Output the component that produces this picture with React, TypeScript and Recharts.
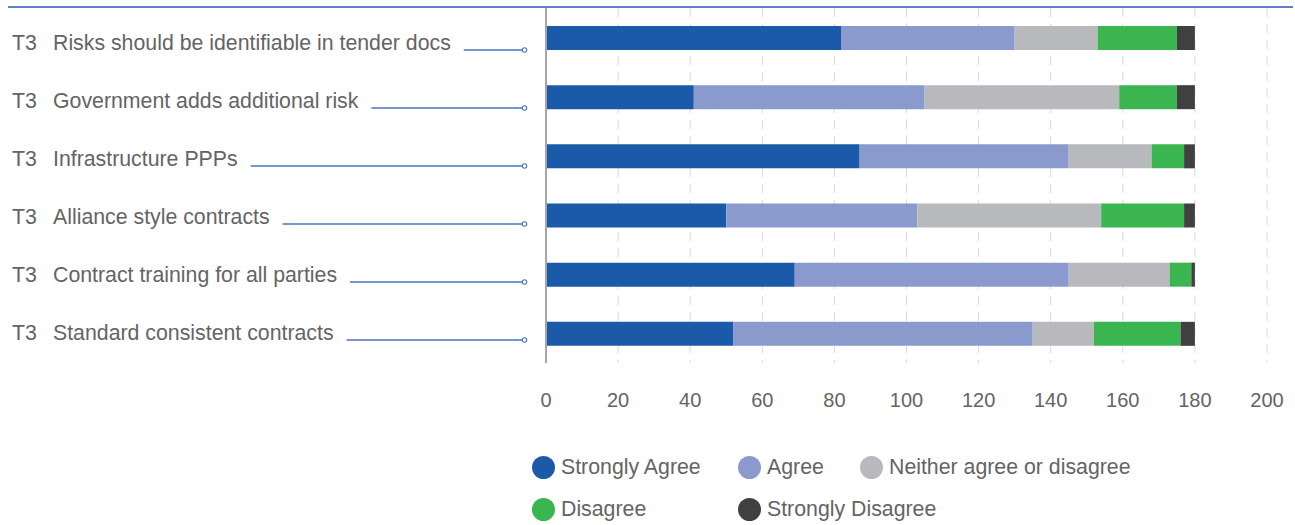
import React from "react";
import { Bar, BarChart, CartesianGrid, XAxis, YAxis } from "recharts";

const prefix = "T3";
const categories = [
  "Risks should be identifiable in tender docs",
  "Government adds additional risk",
  "Infrastructure PPPs",
  "Alliance style contracts",
  "Contract training for all parties",
  "Standard consistent contracts",
];
const stronglyAgree = [82, 41, 87, 50, 69, 52];
const agree = [48, 64, 58, 53, 76, 83];
const neither = [23, 54, 23, 51, 28, 17];
const disagree = [22, 16, 9, 23, 6, 24];
const stronglyDisagree = [5, 5, 3, 3, 1, 4];

const seriesKeys = ["sa", "a", "n", "d", "sd"];
const seriesNames = [
  "Strongly Agree",
  "Agree",
  "Neither agree or disagree",
  "Disagree",
  "Strongly Disagree",
];
const seriesColors = ["#1B5AA8", "#8B9ACC", "#B8B9BC", "#3AB54F", "#404040"];
const xTicks = [0, 20, 40, 60, 80, 100, 120, 140, 160, 180, 200];

const data = categories.map((name, i) => ({
  name,
  sa: stronglyAgree[i],
  a: agree[i],
  n: neither[i],
  d: disagree[i],
  sd: stronglyDisagree[i],
}));

const FONT = '"Liberation Sans", Arial, sans-serif';
const TEXT = "#646464";
const LEADER = "#4A72C0";
const LABEL_SIZE = 21.3;

let canvas: HTMLCanvasElement | null = null;
function textWidth(s: string, size: number) {
  if (!canvas) canvas = document.createElement("canvas");
  const ctx = canvas.getContext("2d")!;
  ctx.font = `${size}px ${FONT}`;
  return ctx.measureText(s).width;
}

// labels sit on a slightly tighter pitch than the bars in the original
function CategoryTick({ index, payload }: any) {
  const label = payload.value as string;
  const base = 50 + index * 58;
  const lineStart = 53 + textWidth(label, LABEL_SIZE) + 13;
  return (
    <g>
      <text x={12} y={base} fontSize={LABEL_SIZE} fill={TEXT} fontFamily={FONT}>
        {prefix}
      </text>
      <text x={53} y={base} fontSize={LABEL_SIZE} fill={TEXT} fontFamily={FONT}>
        {label}
      </text>
      <line x1={lineStart} x2={522.5} y1={base} y2={base} stroke={LEADER} strokeWidth={1.3} />
      <circle cx={524.5} cy={base} r={2.2} fill="#fff" stroke={LEADER} strokeWidth={1.1} />
    </g>
  );
}

function LegendBlock() {
  const cols = [532, 738, 860];
  return (
    <div style={{ position: "absolute", left: 0, top: 0 }}>
      {seriesNames.map((name, i) => {
        const row = i < 3 ? 0 : 1;
        const col = i < 3 ? i : i - 3;
        return (
          <div
            key={name}
            style={{
              position: "absolute",
              left: cols[col],
              top: 456 + row * 42,
              display: "flex",
              alignItems: "center",
              whiteSpace: "nowrap",
              fontFamily: FONT,
              fontSize: LABEL_SIZE,
              color: TEXT,
              height: 23,
            }}
          >
            <span
              style={{
                width: 23,
                height: 23,
                borderRadius: "50%",
                background: seriesColors[i],
                marginRight: 6,
                display: "inline-block",
              }}
            />
            {name}
          </div>
        );
      })}
    </div>
  );
}

export default function App() {
  return (
    <div style={{ position: "absolute", left: 0, top: 0, width: 1295, height: 525, background: "#fff" }}>
      <BarChart
        width={1295}
        height={525}
        data={data}
        layout="vertical"
        margin={{ top: 8, right: 28, left: 0, bottom: 122 }}
        barSize={24}
      >
        <CartesianGrid horizontal={false} stroke="#D9D9D9" strokeDasharray="9 7" />
        <XAxis
          type="number"
          domain={[0, 200]}
          ticks={xTicks}
          axisLine={false}
          tickLine={false}
          tickMargin={24}
          height={40}
          tick={{ fontSize: 20, fill: TEXT, fontFamily: FONT }}
        />
        <YAxis
          type="category"
          dataKey="name"
          width={546}
          axisLine={{ stroke: "#A6A6A6", strokeWidth: 2 }}
          tickLine={false}
          tick={<CategoryTick />}
          interval={0}
        />
        {seriesKeys.map((k, i) => (
          <Bar
            key={k}
            dataKey={k}
            name={seriesNames[i]}
            stackId="s"
            fill={seriesColors[i]}
            isAnimationActive={false}
          />
        ))}
      </BarChart>
      <div style={{ position: "absolute", left: 8, top: 6, width: 1285, height: 2, background: "#5E80CC" }} />
      <LegendBlock />
    </div>
  );
}
